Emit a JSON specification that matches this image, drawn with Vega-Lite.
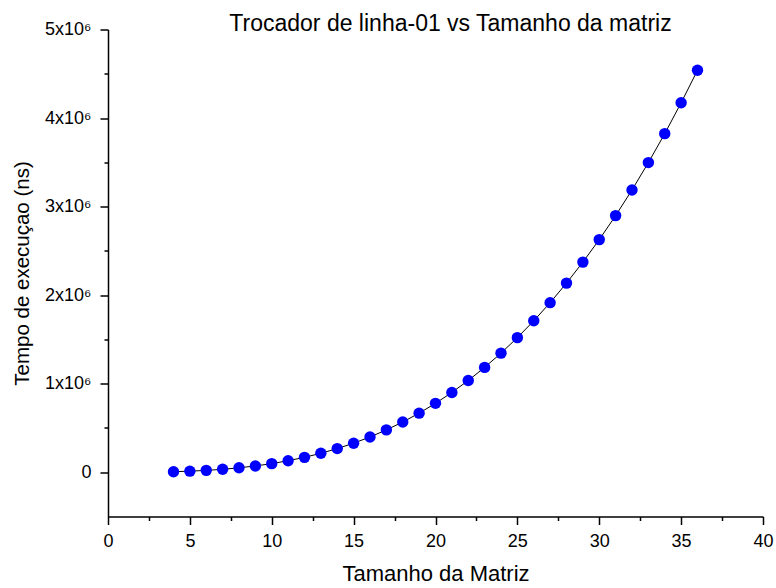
{
  "$schema": "https://vega.github.io/schema/vega-lite/v6.json",
  "autosize": {"type": "none"},
  "width": 655,
  "height": 487,
  "padding": {"left": 108, "top": 29.5, "right": 13, "bottom": 71.5},
  "background": "white",
  "config": {
    "view": {"stroke": null},
    "font": "Liberation Sans"
  },
  "title": {
    "text": "Trocador de linha-01 vs Tamanho da matriz",
    "font": "Liberation Sans",
    "fontSize": 23,
    "fontWeight": "normal",
    "color": "black",
    "anchor": "middle",
    "frame": "group",
    "dx": 15,
    "offset": -15
  },
  "data": {
    "values": [
      {"n": 4, "t": 6000},
      {"n": 5, "t": 12000},
      {"n": 6, "t": 21000},
      {"n": 7, "t": 33000},
      {"n": 8, "t": 50000},
      {"n": 9, "t": 71000},
      {"n": 10, "t": 97000},
      {"n": 11, "t": 130000},
      {"n": 12, "t": 168000},
      {"n": 13, "t": 214000},
      {"n": 14, "t": 267000},
      {"n": 15, "t": 328000},
      {"n": 16, "t": 398000},
      {"n": 17, "t": 478000},
      {"n": 18, "t": 567000},
      {"n": 19, "t": 667000},
      {"n": 20, "t": 778000},
      {"n": 21, "t": 901000},
      {"n": 22, "t": 1036000},
      {"n": 23, "t": 1184000},
      {"n": 24, "t": 1345000},
      {"n": 25, "t": 1520000},
      {"n": 26, "t": 1710000},
      {"n": 27, "t": 1915000},
      {"n": 28, "t": 2136000},
      {"n": 29, "t": 2373000},
      {"n": 30, "t": 2627000},
      {"n": 31, "t": 2898000},
      {"n": 32, "t": 3188000},
      {"n": 33, "t": 3497000},
      {"n": 34, "t": 3824000},
      {"n": 35, "t": 4172000},
      {"n": 36, "t": 4540000}
    ]
  },
  "encoding": {
    "x": {
      "field": "n",
      "type": "quantitative",
      "scale": {"domain": [0, 40], "nice": false, "zero": false},
      "axis": {
        "title": "Tamanho da Matriz",
        "titleFont": "Liberation Sans",
        "titleFontSize": 22,
        "titleFontWeight": "normal",
        "titleColor": "black",
        "titlePadding": 13,
        "values": [0, 2.5, 5, 7.5, 10, 12.5, 15, 17.5, 20, 22.5, 25, 27.5, 30, 32.5, 35, 37.5, 40],
        "labelExpr": "datum.value % 5 === 0 ? datum.value + '' : ''",
        "labelFont": "Liberation Sans",
        "labelFontSize": 18,
        "labelColor": "black",
        "labelPadding": 8,
        "labelFlush": false,
        "labelOverlap": false,
        "grid": false,
        "domainColor": "black",
        "domainWidth": 1.5,
        "tickColor": "black",
        "tickWidth": 1.5,
        "tickSize": {"condition": {"test": "datum.value % 5 === 0", "value": 8}, "value": 4}
      }
    },
    "y": {
      "field": "t",
      "type": "quantitative",
      "scale": {"domain": [-500000, 5000000], "nice": false, "zero": false},
      "axis": {
        "title": "Tempo de execuçao (ns)",
        "titleFont": "Liberation Sans",
        "titleFontSize": 20.5,
        "titleFontWeight": "normal",
        "titleColor": "black",
        "titlePadding": 12,
        "values": [0, 500000, 1000000, 1500000, 2000000, 2500000, 3000000, 3500000, 4000000, 4500000, 5000000],
        "labelExpr": "datum.value === 0 ? '0' : (datum.value % 1000000 === 0 ? (datum.value / 1000000) + 'x10⁶' : '')",
        "labelFont": "Liberation Sans",
        "labelFontSize": 18,
        "labelColor": "black",
        "labelPadding": 9,
        "labelFlush": false,
        "labelOverlap": false,
        "grid": false,
        "domainColor": "black",
        "domainWidth": 1.5,
        "tickColor": "black",
        "tickWidth": 1.5,
        "tickSize": {"condition": {"test": "datum.value % 1000000 === 0", "value": 8}, "value": 4}
      }
    }
  },
  "layer": [
    {
      "mark": {"type": "line", "color": "black", "strokeWidth": 1}
    },
    {
      "mark": {"type": "point", "filled": true, "shape": "circle", "size": 130, "color": "#0000FF", "opacity": 1}
    }
  ]
}
